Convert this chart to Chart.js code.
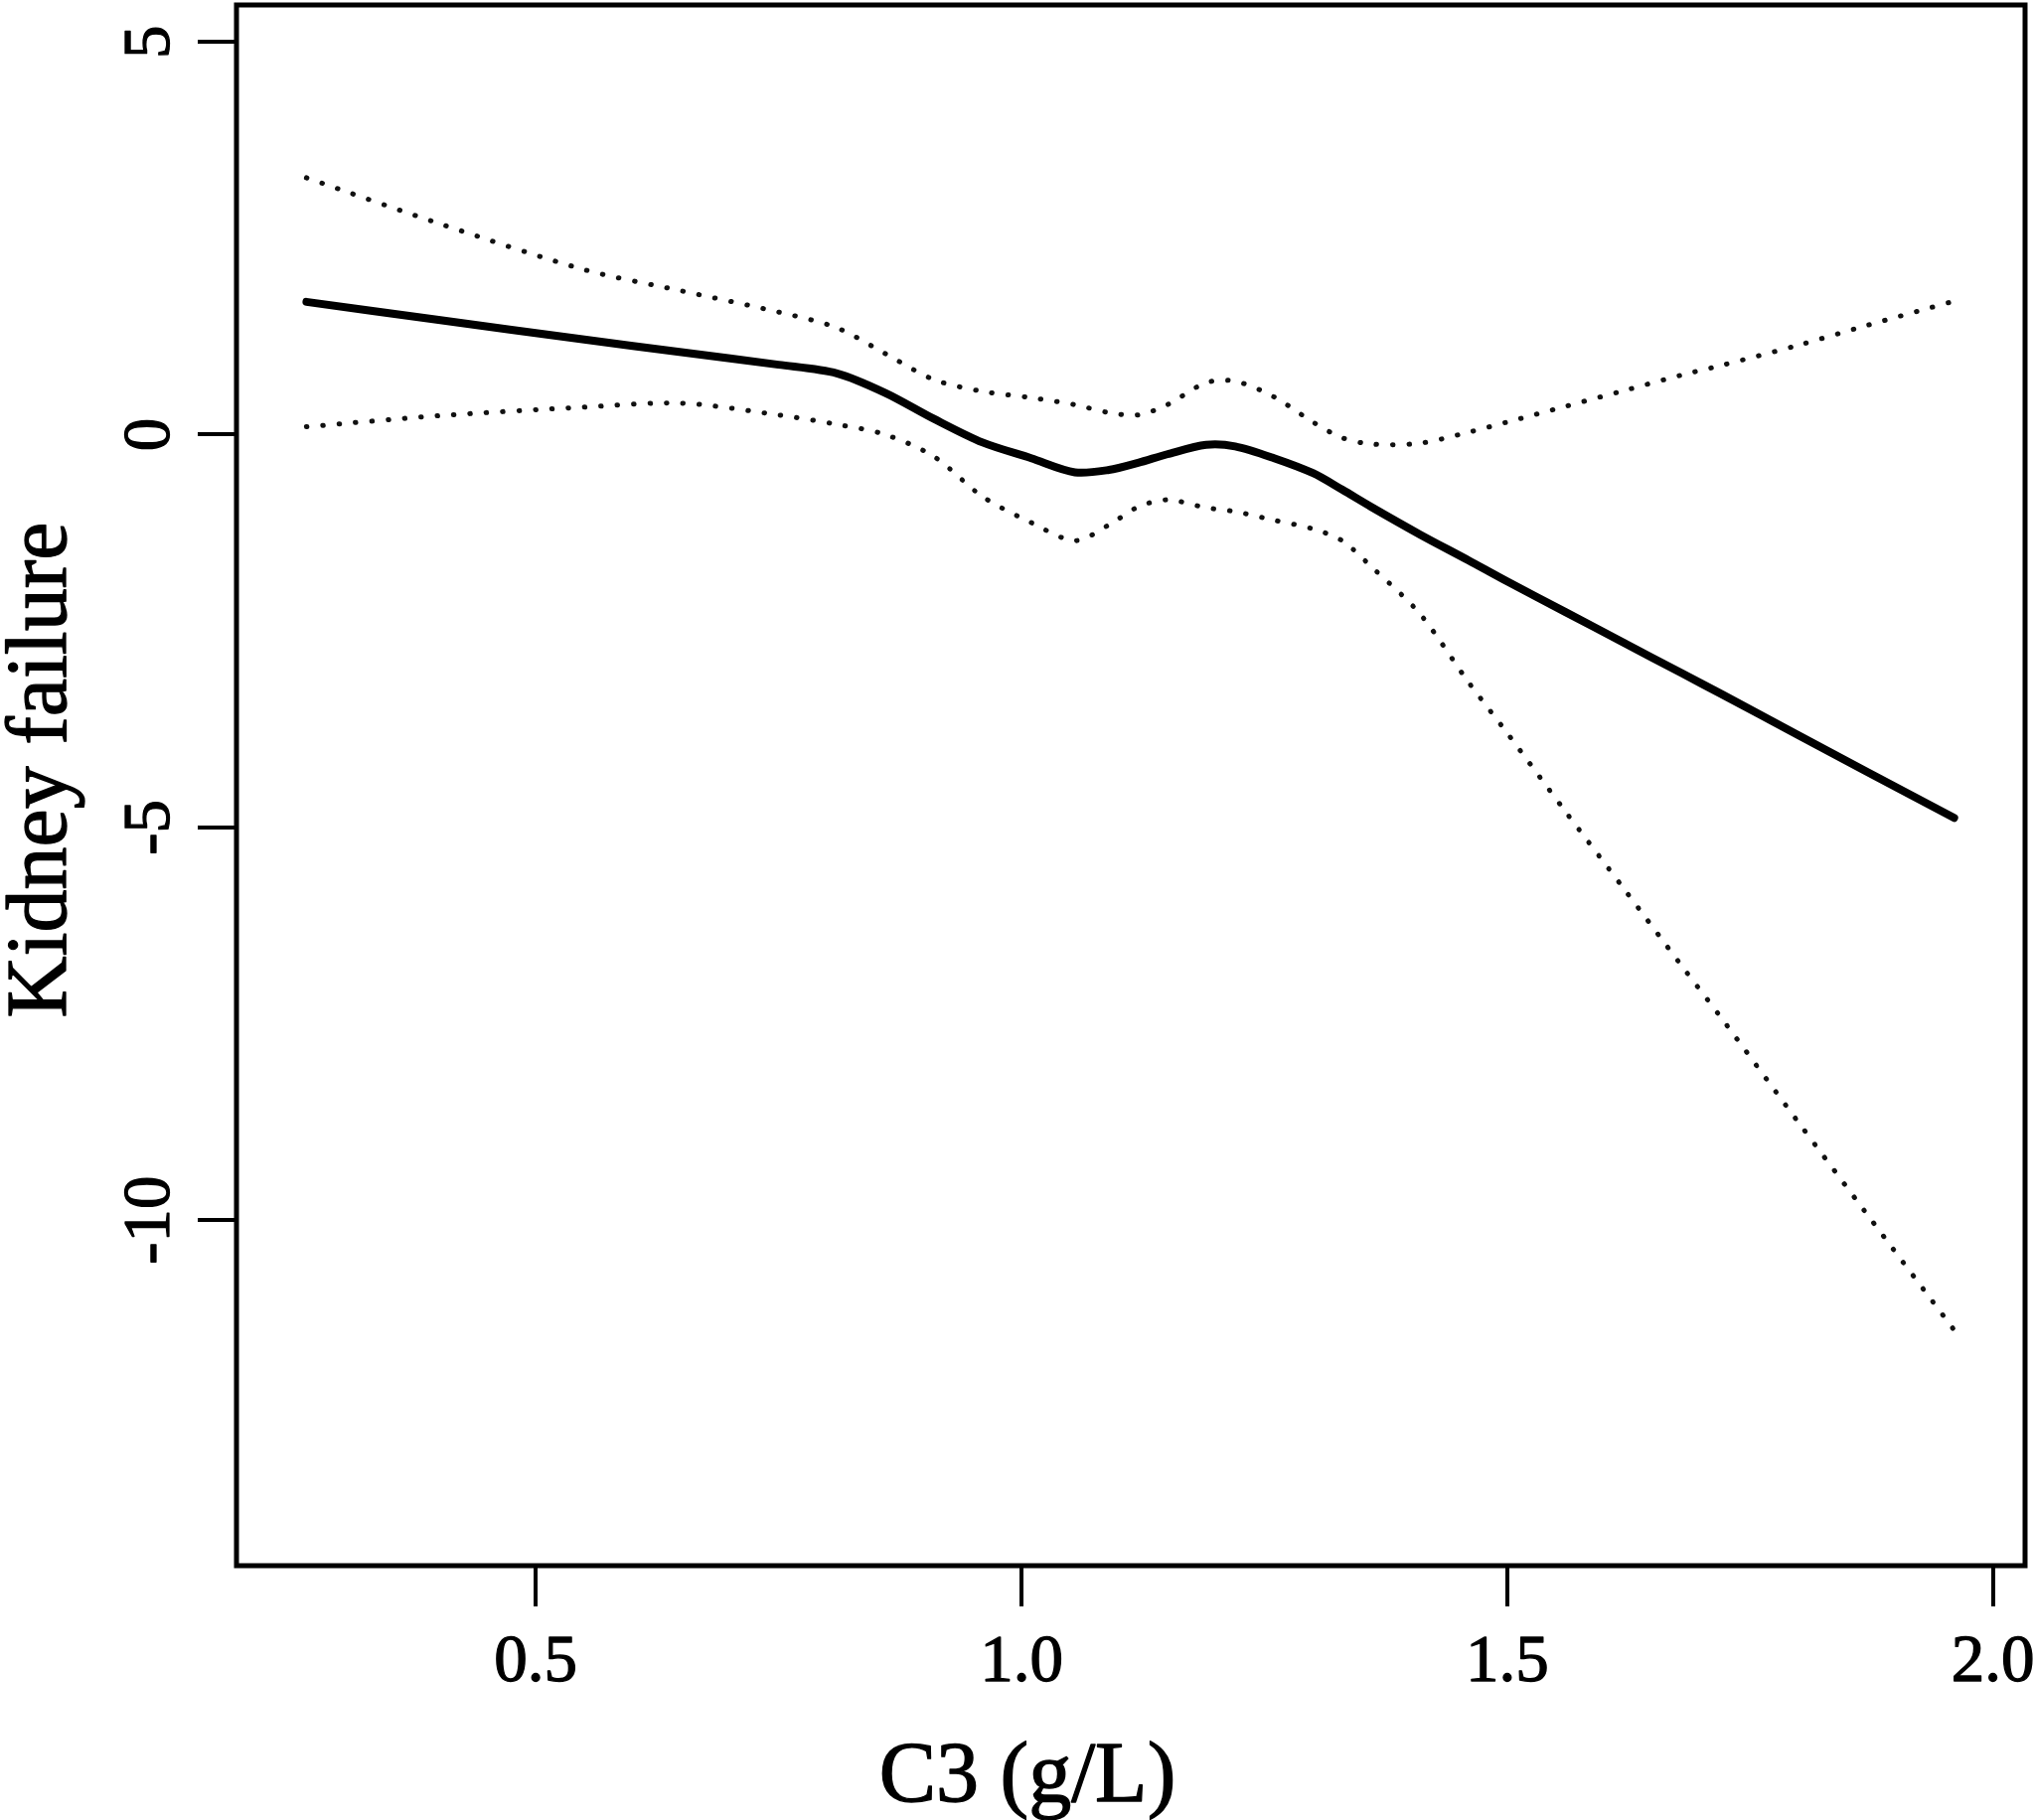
<!DOCTYPE html>
<html>
<head>
<meta charset="utf-8">
<script src="https://cdn.jsdelivr.net/npm/chart.js@4/dist/chart.umd.min.js"></script>
<style>
  html, body { margin: 0; padding: 0; background: #fff; }
  #wrap { width: 2047px; height: 1832px; position: relative; }
</style>
</head>
<body>
<div id="wrap"><canvas id="splineChart"></canvas></div>
<script>
// C3 (g/L) values the curves were read at
const c3 = [0.264, 0.40, 0.55, 0.65, 0.75, 0.81, 0.86, 0.91, 0.96, 1.01,
            1.055, 1.09, 1.12, 1.15, 1.19, 1.22, 1.26, 1.30, 1.33, 1.36,
            1.41, 1.46, 1.50, 1.56, 1.62, 1.68, 1.72, 1.80, 1.87, 1.96];

// fitted effect (solid line)
const fit = [1.69, 1.46, 1.21, 1.05, 0.89, 0.78, 0.53, 0.20, -0.10, -0.30,
             -0.48, -0.45, -0.36, -0.25, -0.13, -0.15, -0.30, -0.49, -0.70, -0.92,
             -1.27, -1.60, -1.87, -2.26, -2.65, -3.04, -3.30, -3.83, -4.29, -4.88];

// upper and lower confidence bands (dotted lines)
const upper = [3.27, 2.69, 2.10, 1.83, 1.56, 1.36, 1.03, 0.70, 0.55, 0.47,
               0.38, 0.28, 0.25, 0.38, 0.66, 0.68, 0.48, 0.16, -0.04, -0.12,
               -0.11, 0.03, 0.16, 0.36, 0.56, 0.76, 0.88, 1.14, 1.39, 1.70];
const lower = [0.10, 0.24, 0.35, 0.40, 0.25, 0.13, 0.00, -0.28, -0.79, -1.12,
               -1.35, -1.15, -0.92, -0.83, -0.93, -0.98, -1.09, -1.20, -1.35, -1.68,
               -2.28, -3.15, -3.80, -4.80, -5.78, -6.77, -7.42, -8.76, -9.92, -11.40];

const xTicks = [0.5, 1.0, 1.5, 2.0];
const xTickLabels = ['0.5', '1.0', '1.5', '2.0'];
const yTicks = [5, 0, -5, -10];
const yTickLabels = ['5', '0', '-5', '-10'];

const xTitle = 'C3 (g/L)';
const yTitle = 'Kidney failure';

const serif = '"Liberation Serif", "DejaVu Serif", serif';

function toPoints(ys) {
    return c3.map((x, i) => ({ x: x, y: ys[i] }));
}

// slightly heavier text, like the scanned figure
function heavyText(ctx, text, x, y) {
    ctx.fillText(text, x, y);
    ctx.strokeText(text, x, y);
}

// box around the plot and the R-style text
const rFrame = {
    id: 'rFrame',
    afterDraw(chart) {
        const ctx = chart.ctx;
        const a = chart.chartArea;
        const xs = chart.scales.x;
        const ys = chart.scales.y;
        ctx.save();
        ctx.strokeStyle = '#000';
        ctx.lineWidth = 5;
        ctx.strokeRect(a.left, a.top, a.right - a.left, a.bottom - a.top);

        ctx.fillStyle = '#000';
        ctx.lineWidth = 1.3;
        ctx.lineJoin = 'round';
        ctx.font = '67px ' + serif;
        ctx.textAlign = 'center';
        ctx.textBaseline = 'alphabetic';
        xTicks.forEach((v, i) => {
            heavyText(ctx, xTickLabels[i], xs.getPixelForValue(v), 1692);
        });

        yTicks.forEach((v, i) => {
            ctx.save();
            ctx.translate(170, ys.getPixelForValue(v));
            ctx.rotate(-Math.PI / 2);
            heavyText(ctx, yTickLabels[i], 0, 0);
            ctx.restore();
        });

        ctx.font = '86px ' + serif;
        heavyText(ctx, xTitle, 1034, 1813);

        ctx.save();
        ctx.translate(66, 775);
        ctx.rotate(-Math.PI / 2);
        heavyText(ctx, yTitle, 0, 0);
        ctx.restore();
        ctx.restore();
    }
};

const dotted = {
    borderColor: '#111',
    borderWidth: 5,
    borderDash: [0.5, 16],
    borderCapStyle: 'round'
};

const ctx = document.getElementById('splineChart').getContext('2d');
const splineChart = new Chart(ctx, {
    type: 'line',
    data: {
        datasets: [
            Object.assign({ label: 'upper', data: toPoints(upper) }, dotted),
            Object.assign({ label: 'lower', data: toPoints(lower) }, dotted),
            {
                label: 'fit',
                data: toPoints(fit),
                borderColor: '#000',
                borderWidth: 8,
                borderCapStyle: 'round'
            }
        ]
    },
    options: {
        responsive: true,
        maintainAspectRatio: false,
        animation: false,
        devicePixelRatio: 1,
        layout: { padding: { top: 5, right: 9, left: 0, bottom: 0 } },
        elements: {
            point: { radius: 0, hoverRadius: 0 },
            line: { tension: 0.3, fill: false }
        },
        scales: {
            x: {
                type: 'linear',
                min: 0.192,
                max: 2.033,
                afterBuildTicks: s => { s.ticks = xTicks.map(v => ({ value: v })); },
                afterFit: s => { s.height = 256; },
                ticks: { display: false },
                border: { display: false },
                grid: {
                    drawOnChartArea: false,
                    drawTicks: true,
                    tickLength: 41,
                    color: '#000',
                    lineWidth: 4
                }
            },
            y: {
                type: 'linear',
                min: -14.4,
                max: 5.47,
                afterBuildTicks: s => { s.ticks = yTicks.map(v => ({ value: v })); },
                afterFit: s => { s.width = 238; },
                ticks: { display: false },
                border: { display: false },
                grid: {
                    drawOnChartArea: false,
                    drawTicks: true,
                    tickLength: 39,
                    color: '#000',
                    lineWidth: 4
                }
            }
        },
        plugins: {
            legend: { display: false },
            tooltip: { enabled: false }
        }
    },
    plugins: [rFrame]
});
</script>
</body>
</html>
